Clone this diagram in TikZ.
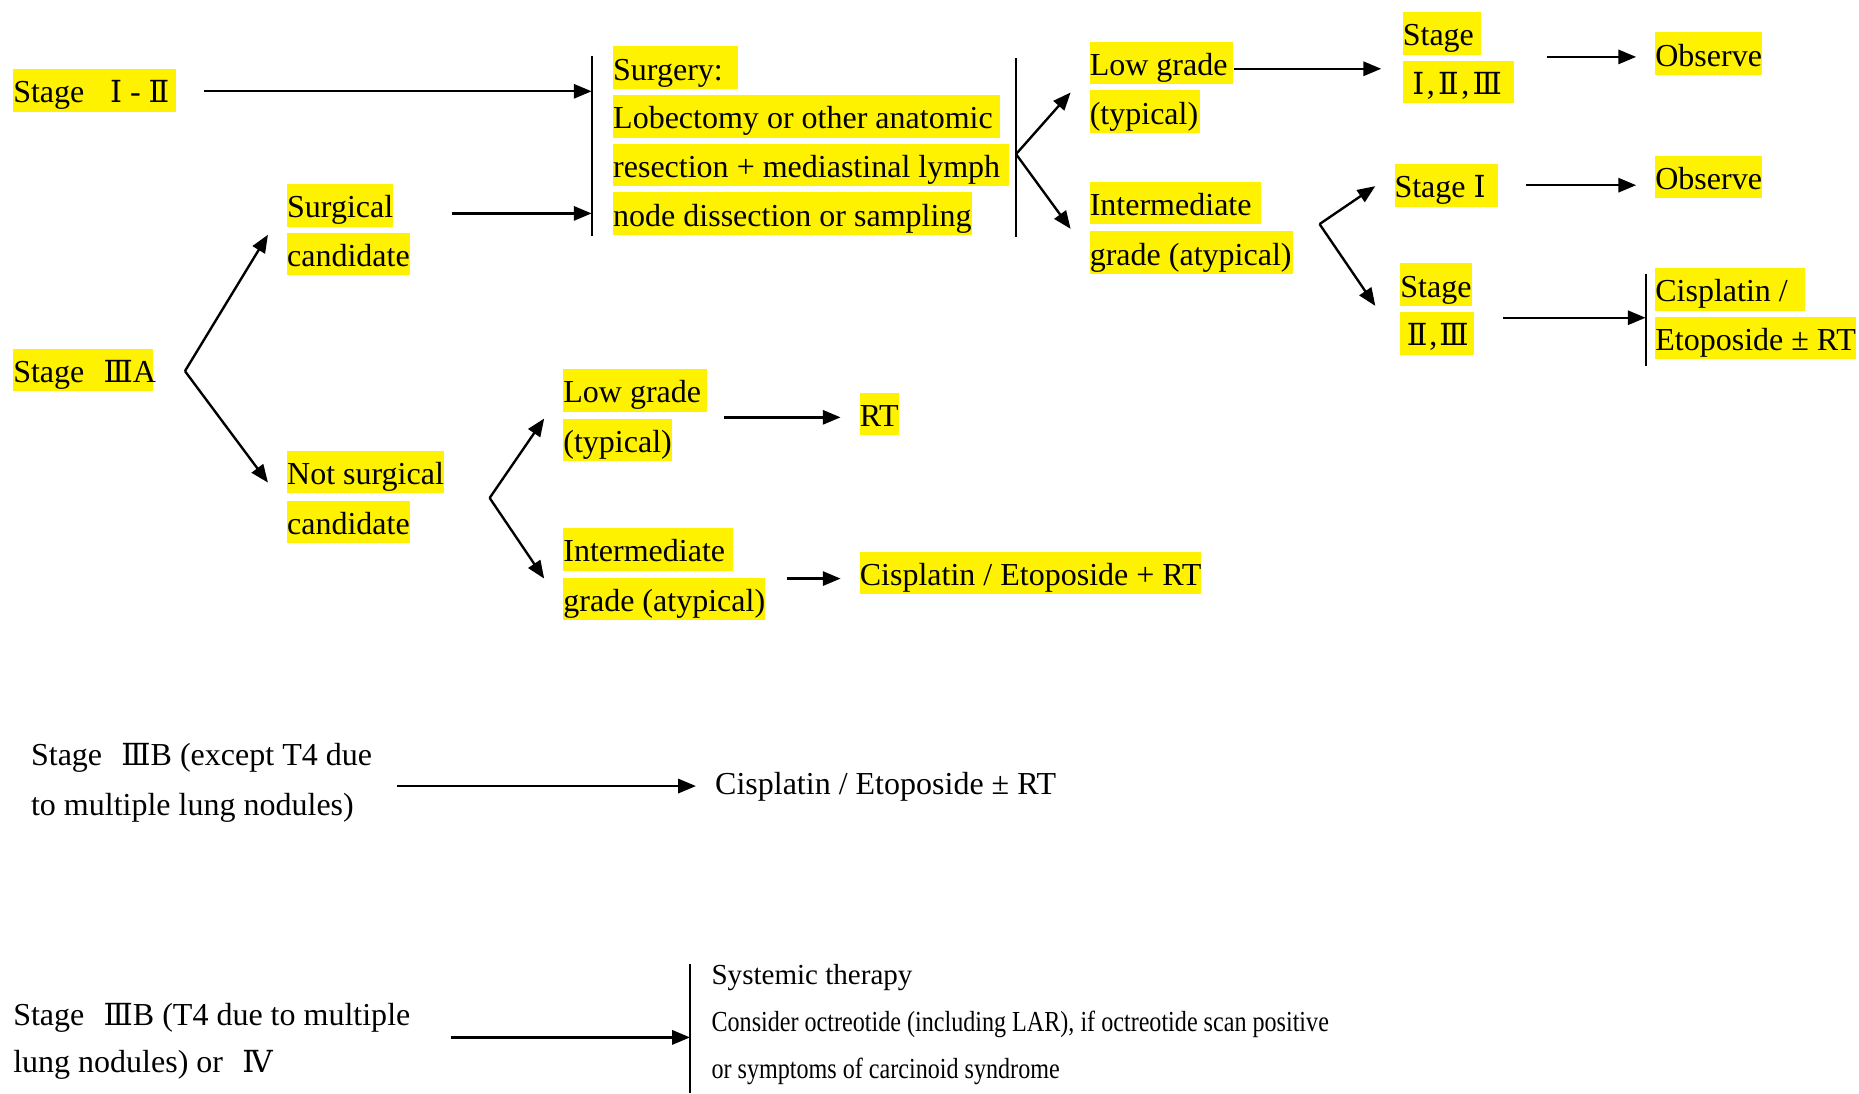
\documentclass[tikz,border=0pt]{standalone}
\usepackage{fontspec}
\setmainfont{Liberation Serif}
\newfontfamily\condfont[FakeStretch=0.83]{Liberation Serif}
\newfontfamily\rnfont[Scale=0.95]{DejaVu Serif}
\usetikzlibrary{arrows.meta}
% fixed-width yellow label: box width in pt, text flush left
\newcommand\hlw[2]{\makebox[#1pt][l]{#2}}
% roman numerals set in a family that has them
\newcommand\rn[1]{{\rnfont #1}}
\begin{document}
\begin{tikzpicture}[x=1pt,y=-1pt,
  hl/.style={fill=yellow, inner sep=0pt, anchor=north west,
    text height=28.5pt, text depth=7.5pt, font=\fontsize{27}{32}\selectfont},
  pl/.style={inner sep=0pt, anchor=base west, font=\fontsize{27}{32}\selectfont},
  sm/.style={inner sep=0pt, anchor=base west, font=\fontsize{24.5}{29}\selectfont},
  arr/.style={line width=2pt, -{Triangle[length=15pt,width=12pt]}},
  bar/.style={line width=1.6pt}]
\useasboundingbox (0,0) rectangle (1568,922);

% ---------- Stage I-II / surgical candidate -> surgery ----------
\node[hl] (s12) at (11,58) {\hlw{137}{Stage\hspace{0.8em}\rn{Ⅰ} - \rn{Ⅱ}}};
\node[hl] (sc1) at (242,155) {\hlw{89}{Surgical}};
\node[hl] (sc2) at (242,196) {\hlw{104}{candidate}};

\node[hl] (sg1) at (517,39)  {\hlw{105}{Surgery:}};
\node[hl] (sg2) at (517,80)  {\hlw{326}{Lobectomy or other anatomic}};
\node[hl] (sg3) at (517,121) {\hlw{334}{resection + mediastinal lymph}};
\node[hl] (sg4) at (517,162) {\hlw{303}{node dissection or sampling}};

\coordinate (b1t) at (499,47);
\coordinate (b1b) at (499,199);
\draw[bar] (b1t) -- (b1b);
\coordinate (b1a) at (499,77);
\coordinate (b1c) at (499,180);
\draw[arr] ([xshift=24pt]s12.east |- b1a) -- (b1a);
\draw[arr] (381,180) coordinate (sco) -- (b1c);

% ---------- grades after surgery ----------
\coordinate (b2t) at (857,49);
\coordinate (b2b) at (857,200);
\draw[bar] (b2t) -- (b2b);
\coordinate (f2) at (857,130);

\node[hl] (lg1a) at (919,35) {\hlw{121}{Low grade}};
\node[hl] (lg1b) at (919,76) {\hlw{93}{(typical)}};
\node[hl] (ig1a) at (919,153) {\hlw{144}{Intermediate}};
\node[hl] (ig1b) at (919,195) {\hlw{171}{grade (atypical)}};

\draw[arr] (f2) -- (903,78) coordinate (lg1in);
\draw[arr] (f2) -- (903,193) coordinate (ig1in);

\node[hl] (st123a) at (1183,10) {\hlw{66}{Stage}};
\node[hl] (st123b) at (1183,51) {\hlw{94}{\hspace{0.3em}\rn{Ⅰ}\hspace{0.08em},\hspace{0.1em}\rn{Ⅱ}\hspace{0.08em},\hspace{0.1em}\rn{Ⅲ}}};
\node[hl] (obs1) at (1396,27) {\hlw{90}{Observe}};
\draw[arr] (lg1a.east |- 0,58) -- (1165,58) coordinate (st123in);
\draw[arr] (1305,48) coordinate (st123out) -- ([xshift=-16pt]obs1.west |- st123out);

\coordinate (f3) at (1113,189);
\node[hl] (st1) at (1176,138) {\hlw{87}{Stage \rn{Ⅰ}}};
\node[hl] (obs2) at (1396,131) {\hlw{90}{Observe}};
\draw[arr] (f3) -- (1160,157) coordinate (st1in);
\draw[arr] (f3) -- (1160,258) coordinate (st23in);
\draw[arr] ([xshift=24pt]st1.east) -- ([xshift=-16pt]obs2.west |- st1.east);

\node[hl] (st23a) at (1181,222) {\hlw{60}{Stage}};
\node[hl] (st23b) at (1181,263) {\hlw{62}{\hspace{0.2em}\rn{Ⅱ}\hspace{0.06em},\hspace{0.06em}\rn{Ⅲ}}};
\coordinate (b3t) at (1388,231);
\coordinate (b3b) at (1388,309);
\draw[bar] (b3t) -- (b3b);
\node[hl] (cis1a) at (1396,226) {\hlw{126}{Cisplatin /}};
\node[hl] (cis1b) at (1396,267) {\hlw{169}{Etoposide ± RT}};
\draw[arr] (1268,268) coordinate (st23out) -- (b3t |- st23out);

% ---------- Stage IIIA ----------
\node[hl] (s3a) at (11,294) {\hlw{118}{Stage\hspace{0.6em}\rn{Ⅲ}A}};
\coordinate (f1) at (156,313);
\draw[arr] (f1) -- (226,198) coordinate (scin);
\draw[arr] (f1) -- (226,407) coordinate (nsin);

\node[hl] (ns1) at (242,380) {\hlw{132}{Not surgical}};
\node[hl] (ns2) at (242,422) {\hlw{104}{candidate}};
\coordinate (f4) at (413,420);

\node[hl] (lg2a) at (475,311) {\hlw{121}{Low grade}};
\node[hl] (lg2b) at (475,353) {\hlw{92}{(typical)}};
\node[hl] (ig2a) at (475,445) {\hlw{143}{Intermediate}};
\node[hl] (ig2b) at (475,487) {\hlw{170}{grade (atypical)}};
\draw[arr] (f4) -- (459,353) coordinate (lg2in);
\draw[arr] (f4) -- (459,488) coordinate (ig2in);

\node[hl] (rt) at (725,331) {\hlw{33}{RT}};
\node[hl] (cis2) at (725,465) {\hlw{288}{Cisplatin / Etoposide + RT}};
\draw[arr] (611,352) coordinate (lg2out) -- ([xshift=-16pt]rt.west |- lg2out);
\draw[arr] (664,488) coordinate (ig2out) -- ([xshift=-16pt]cis2.west |- ig2out);

% ---------- Stage IIIB (except T4) ----------
\node[pl] (s3b1) at (26,646) {Stage\hspace{0.6em}\rn{Ⅲ}B (except T4 due};
\node[pl] (s3b2) at (26,688) {to multiple lung nodules)};
\node[pl] (cis3) at (603,670) {Cisplatin / Etoposide ± RT};
\draw[arr] (335,663) coordinate (s3bout) -- ([xshift=-16pt]cis3.west |- s3bout);

% ---------- Stage IIIB (T4) or IV ----------
\node[pl] (s4a) at (11,865) {Stage\hspace{0.6em}\rn{Ⅲ}B (T4 due to multiple};
\node[pl] (s4b) at (11,905) {lung nodules) or\hspace{0.6em}\rn{Ⅳ}};
\coordinate (b4t) at (582,813);
\coordinate (b4b) at (582,922);
\draw[line width=1.2pt] (b4t) -- (b4b);
\coordinate (b4a) at (582,875);
\draw[arr] (380,875) coordinate (s4out) -- (b4a);

\node[sm] (sys1) at (600,830) {Systemic therapy};
\node[sm] (sys2) at (600,870) {\condfont Consider octreotide (including LAR), if octreotide scan positive};
\node[sm] (sys3) at (600,910) {\condfont or symptoms of carcinoid syndrome};
\end{tikzpicture}
\end{document}
